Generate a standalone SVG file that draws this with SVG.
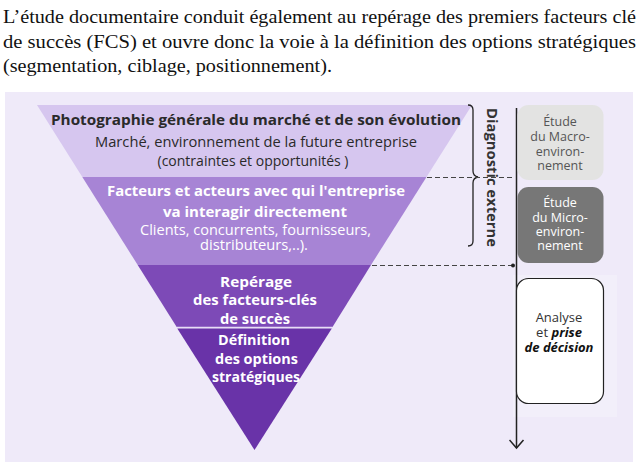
<svg xmlns="http://www.w3.org/2000/svg" width="640" height="469" viewBox="0 0 640 469">
<style>
.hdr{font-family:"Liberation Serif","Times New Roman",serif;font-size:19px;fill:#111}
.s{font-family:"Open Sans","Noto Sans","DejaVu Sans",sans-serif;text-anchor:middle}
.b{font-weight:700}
.dk{fill:#2a2a2a}
.wh{fill:#fff}
.dash{stroke:#444;stroke-width:1.2;stroke-dasharray:5 3;fill:none}
</style>
<defs>
<marker id="dot" markerWidth="6" markerHeight="6" refX="3" refY="3" markerUnits="userSpaceOnUse"><circle cx="3" cy="3" r="2" fill="#222"/></marker>
<marker id="arr" markerWidth="12" markerHeight="16" refX="9" refY="8" orient="auto" markerUnits="userSpaceOnUse"><path d="M1,1 L9,8 L1,15" fill="none" stroke="#222" stroke-width="1.5"/></marker>
</defs>
<rect width="640" height="469" fill="#fff"/>
<g id="header">
<text class="hdr" x="3" y="23" textLength="633" lengthAdjust="spacingAndGlyphs">L’étude documentaire conduit également au repérage des premiers facteurs clé</text>
<text class="hdr" x="3" y="48" textLength="633" lengthAdjust="spacingAndGlyphs">de succès (FCS) et ouvre donc la voie à la définition des options stratégiques</text>
<text class="hdr" x="3" y="72" textLength="329" lengthAdjust="spacingAndGlyphs">(segmentation, ciblage, positionnement).</text>
</g>
<rect id="panel" x="5" y="92" width="628" height="370" fill="#EFEAF9"/>
<rect x="513" y="275" width="104" height="142" fill="#F2EFFA"/>
<g id="funnel">
<g id="band1">
<polygon points="37,105 472,105 426.5,177 82.3,177" fill="#D6C6EF"/>
<text class="s b dk" x="256" y="125" font-size="14" textLength="410" lengthAdjust="spacingAndGlyphs">Photographie générale du marché et de son évolution</text>
<text class="s dk" x="256" y="147" font-size="14" textLength="322" lengthAdjust="spacingAndGlyphs" fill="#333">Marché, environnement de la future entreprise</text>
<text class="s dk" x="253" y="166" font-size="14" textLength="191" lengthAdjust="spacingAndGlyphs" fill="#333">(contraintes et opportunités )</text>
</g>
<g id="band2">
<polygon points="82.3,177 426.5,177 371,265 137.7,265" fill="#A784D5"/>
<text class="s b wh" x="256" y="196" font-size="14" textLength="298" lengthAdjust="spacingAndGlyphs">Facteurs et acteurs avec qui l'entreprise</text>
<text class="s b wh" x="255" y="217" font-size="14" textLength="184" lengthAdjust="spacingAndGlyphs">va interagir directement</text>
<text class="s wh" x="255.5" y="235" font-size="14" textLength="231" lengthAdjust="spacingAndGlyphs">Clients, concurrents, fournisseurs,</text>
<text class="s wh" x="254" y="250" font-size="14" textLength="108" lengthAdjust="spacingAndGlyphs">distributeurs,..).</text>
</g>
<g id="band3">
<polygon points="137.7,265 371,265 332.5,327 176.7,327" fill="#7D4AB7"/>
<text class="s b wh" x="256" y="287" font-size="14.5" textLength="72" lengthAdjust="spacingAndGlyphs">Repérage</text>
<text class="s b wh" x="255" y="305" font-size="14.5" textLength="124" lengthAdjust="spacingAndGlyphs">des facteurs-clés</text>
<text class="s b wh" x="255" y="324" font-size="14.5" textLength="70" lengthAdjust="spacingAndGlyphs">de succès</text>
</g>
<line x1="176.7" y1="327.5" x2="332.5" y2="327.5" stroke="#E8DDF6" stroke-width="1.5"/>
<g id="band4">
<polygon points="177.3,328.5 331.8,328.5 254.5,450" fill="#6933A8"/>
<text class="s b wh" x="254" y="345" font-size="14.5" textLength="72" lengthAdjust="spacingAndGlyphs">Définition</text>
<text class="s b wh" x="256.5" y="364" font-size="14.5" textLength="83" lengthAdjust="spacingAndGlyphs">des options</text>
<text class="s b wh" x="256" y="382" font-size="14.5" textLength="88" lengthAdjust="spacingAndGlyphs">stratégiques</text>
</g>
</g>
<g id="bracket">
<path d="M468,105 Q473,105 473,110 L473,171 Q473,176 478,177 Q473,178 473,183 L473,241 Q473,246 468,246" fill="none" stroke="#222" stroke-width="1.3"/>
</g>
<g id="diag">
<text class="s b" x="0" y="0" font-size="14" fill="#333" transform="translate(487,177.5) rotate(90)" textLength="139" lengthAdjust="spacingAndGlyphs">Diagnostic externe</text>
</g>
<g id="connectors">
<line class="dash" x1="427" y1="177.5" x2="513" y2="177.5"/>
<line class="dash" x1="372" y1="265.5" x2="513" y2="265.5" marker-end="url(#dot)"/>
<line x1="516.5" y1="108" x2="516.5" y2="448" stroke="#222" stroke-width="1.5" marker-end="url(#arr)"/>
</g>
<g id="macro">
<rect x="517.5" y="105" width="86" height="75" rx="11" fill="#E3E3E2"/>
<g class="s" font-size="12.5" fill="#555">
<text x="560" y="126">Étude</text>
<text x="560" y="141">du Macro-</text>
<text x="560" y="156">environ-</text>
<text x="560" y="170">nement</text>
</g>
</g>
<g id="micro">
<rect x="517.5" y="187" width="86" height="76" rx="11" fill="#777777"/>
<g class="s" font-size="12.5" fill="#fff">
<text x="560" y="207">Étude</text>
<text x="560" y="222">du Micro-</text>
<text x="560" y="236">environ-</text>
<text x="560" y="250">nement</text>
</g>
</g>
<g id="analyse">
<rect x="516.5" y="278.5" width="87" height="125" rx="12" fill="#fff" stroke="#222" stroke-width="1.2"/>
<g class="s" font-size="13" fill="#333">
<text x="559" y="322">Analyse</text>
<text x="559" y="337">et <tspan font-weight="700" font-style="italic" fill="#111">prise</tspan></text>
<text x="559" y="352" font-weight="700" font-style="italic" fill="#111">de décision</text>
</g>
</g>
</svg>
